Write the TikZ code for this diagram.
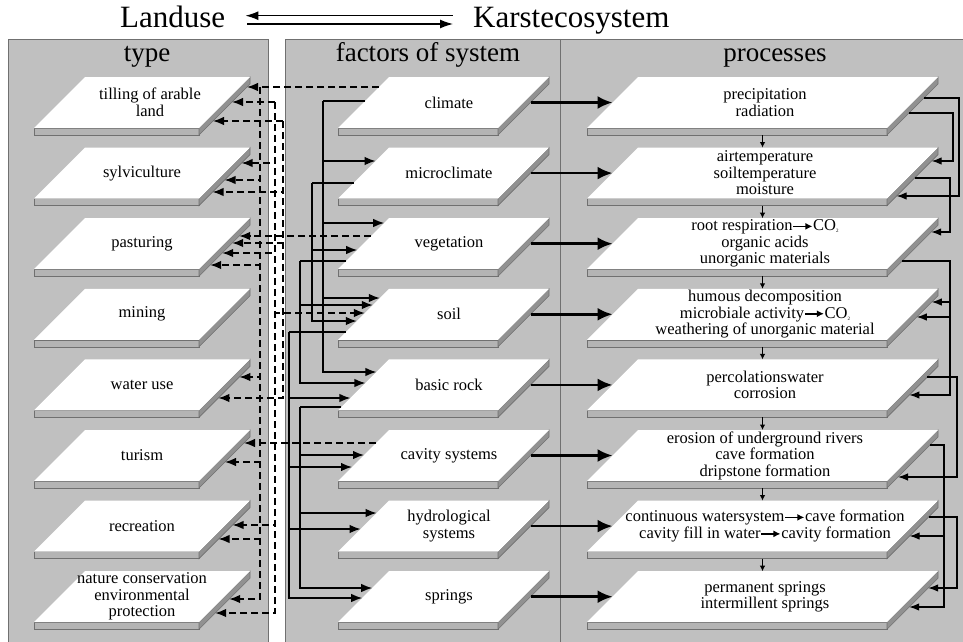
\documentclass[tikz,border=0pt]{standalone}
\usepackage{fontspec}
\setmainfont{Liberation Serif}
\usetikzlibrary{arrows.meta}

\definecolor{panelgray}{RGB}{192,192,192}
\definecolor{frontgray}{RGB}{180,180,180}
\definecolor{sidegray}{RGB}{145,145,145}
\definecolor{edgegray}{RGB}{112,112,112}

\newcommand{\slab}[6][]{
	\filldraw[fill=frontgray, draw=edgegray, line width=0.6pt] (#3, #4 + 51) rectangle (#3 + #5, #4 + 58);
	\filldraw[fill=sidegray, draw=edgegray, line width=0.6pt] (#3 + #5, #4 + 51) -- (#3 + #5 + 51, #4) -- (#3 + #5 + 51, #4 + 7) -- (#3 + #5, #4 + 58) -- cycle;
	\fill[white] (#3, #4 + 51) -- (#3 + #5, #4 + 51) -- (#3 + #5 + 51, #4) -- (#3 + 51, #4) -- cycle;
	\coordinate (#2-w) at (#3 + 25.5, #4 + 25.5);
	\coordinate (#2-o) at (#3 + #5 + 32.5, #4 + 25.5);
	\coordinate (#2-n) at (#3 + #5/2 + 25.5, #4);
	\coordinate (#2-s) at (#3 + #5/2 + 25.5, #4 + 58);
	\node[slabtext, #1] (#2) at (#3 + #5/2 + 25.5, #4 + 25.5) {#6};
}

\newcommand{\toarr}{\tikz[baseline=-4.5pt]\draw[line width=1.6pt, -{Latex[length=7pt, width=7pt]}] (0pt, 0pt) -- (19pt, 0pt);}
\newcommand{\cotwo}{CO\raisebox{-2pt}{\fontsize{5}{5}\selectfont 2}}

\begin{document}
\begin{tikzpicture}[x=1pt, y=-1pt,
		slabtext/.style={align=center, inner sep=0pt, font=\fontsize{16.5}{16.5}\selectfont},
		head/.style={anchor=base, inner sep=0pt, font=\fontsize{27}{27}\selectfont},
		title/.style={anchor=base west, inner sep=0pt, font=\fontsize{31}{31}\selectfont},
		lift/.style={xshift=#1pt, yshift=#1pt},
		wire/.style={line width=1.4pt},
		sarr/.style={wire, -{Latex[length=11pt, width=8.5pt]}},
		darr/.style={sarr, dash pattern=on 7pt off 4pt},
		bigarr/.style={line width=2.5pt, -{Latex[length=15pt, width=13pt]}},
		farr/.style={line width=1.2pt, -{Latex[length=10pt, width=7.5pt]}},
		tarr/.style={line width=1pt, -{Latex[length=5.5pt, width=5.5pt]}}]
	\useasboundingbox (0, 0) rectangle (963, 642);
	\filldraw[fill=panelgray, draw=edgegray, line width=0.6pt] (8, 39) rectangle (268, 650);
	\filldraw[fill=panelgray, draw=edgegray, line width=0.6pt] (285, 39) rectangle (970, 650);
	\draw[edgegray, line width=0.6pt] (560, 39) -- (560, 650);

	\node[title] (land) at (120, 28) {Landuse};
	\node[title] (karst) at (473, 28) {Karstecosystem};
	\draw[line width=1.3pt, {Latex[length=13pt, width=9pt]}-] ([shift={(20, -12.3)}]land.base east) -- ([shift={(-20, -12.3)}]karst.base west);
	\draw[line width=1.3pt, -{Latex[length=13pt, width=9pt]}] ([shift={(22, -4)}]land.base east) -- ([shift={(-20, -4)}]karst.base west);

	\node[head] (typehead) at (147, 62) {type};
	\node[head] (factorhead) at (428, 62) {factors of system};
	\node[head] (processhead) at (775, 62) {processes};

	\slab[xshift=8pt]{till}{34}{77}{165}{tilling of arable\\land}
	\slab{sylv}{34}{147.6}{165}{sylviculture}
	\slab{past}{34}{218.2}{165}{pasturing}
	\slab{mine}{34}{288.8}{165}{mining}
	\slab{water}{34}{359.4}{165}{water use}
	\slab{tur}{34}{430}{165}{turism}
	\slab{recr}{34}{500.6}{165}{recreation}
	\slab{nat}{34}{571.2}{165}{nature conservation\\environmental\\protection}

	\slab[xshift=5.5pt]{clim}{338}{77}{160}{climate}
	\slab[xshift=5.5pt]{micro}{338}{147.6}{160}{microclimate}
	\slab[xshift=5.5pt]{veg}{338}{218.2}{160}{vegetation}
	\slab[xshift=5.5pt]{soil}{338}{288.8}{160}{soil}
	\slab[xshift=5.5pt]{rock}{338}{359.4}{160}{basic rock}
	\slab[xshift=5.5pt]{cav}{338}{430}{160}{cavity systems}
	\slab[xshift=5.5pt]{hydro}{338}{500.6}{160}{hydrological\\systems}
	\slab[xshift=5.5pt]{spring}{338}{571.2}{160}{springs}

	\slab[xshift=2.5pt]{prec}{587}{77}{300}{precipitation\\radiation}
	\slab[xshift=2.5pt]{air}{587}{147.6}{300}{airtemperature\\soiltemperature\\moisture}
	\slab[xshift=2.5pt]{root}{587}{218.2}{300}{root respiration\toarr\cotwo\\organic acids\\unorganic materials}
	\slab[xshift=2.5pt]{hum}{587}{288.8}{300}{humous decomposition\\microbiale activity\toarr\cotwo\\weathering of unorganic material}
	\slab[xshift=2.5pt]{perc}{587}{359.4}{300}{percolationswater\\corrosion}
	\slab[xshift=2.5pt]{ero}{587}{430}{300}{erosion of underground rivers\\cave formation\\dripstone formation}
	\slab[xshift=2.5pt]{cont}{587}{500.6}{300}{continuous watersystem\toarr cave formation\\cavity fill in water\toarr cavity formation}
	\slab[xshift=2.5pt]{perm}{587}{571.2}{300}{permanent springs\\intermillent springs}

	\coordinate (kc) at (323, 101);
	\coordinate (km) at (312, 183);
	\coordinate (kv) at (300, 261);
	\coordinate (ks) at (289, 332);
	\coordinate (kr) at (300, 407);
	\coordinate (da) at (260, 87);
	\coordinate (db) at (275, 102);
	\coordinate (dc) at (283, 121);
	\coordinate (ra) at (959, 98);
	\coordinate (rb) at (953, 113);
	\coordinate (rc) at (950, 178);
	\coordinate (rd) at (950, 261);
	\coordinate (re) at (957, 377);
	\coordinate (rf) at (944, 445);
	\coordinate (rg) at (957, 517);

	\draw[wire] ([lift=1.5]clim-w) -- (kc);
	\draw[sarr] (kc) |- ([lift=12.1]micro-w);
	\draw[sarr] (kc) |- ([lift=20.7]veg-w);
	\draw[sarr] (kc) |- ([lift=16.3]soil-w);
	\draw[sarr] (kc) |- ([lift=12.9]rock-w);
	\draw[wire] ([lift=-9.9]micro-w) -- (km);
	\draw[sarr] (km) |- ([lift=-6.3]veg-w);
	\draw[sarr] (km) |- ([lift=-6.7]soil-w);
	\draw[wire] ([lift=-17.3]veg-w) -- (kv);
	\draw[sarr] (kv) |- ([lift=9.3]soil-w);
	\draw[sarr] (kv) |- ([lift=1.9]rock-w);
	\draw[wire] ([lift=-17.7]soil-w) -- (ks);
	\draw[sarr] (ks) |- ([lift=-13.1]rock-w);
	\draw[sarr] (ks) |- ([lift=-11.5]cav-w);
	\draw[sarr] (ks) |- ([lift=-2.9]hydro-w);
	\draw[sarr] (ks) |- ([lift=-1.3]spring-w);
	\draw[wire] ([lift=-22.1]rock-w) -- (kr);
	\draw[sarr] (kr) |- ([lift=0.5]cav-w);
	\draw[sarr] (kr) |- ([lift=13.1]hydro-w);
	\draw[sarr] (kr) |- ([lift=8.7]spring-w);

	\draw[bigarr] (clim-o) -- (prec-w);
	\draw[bigarr] (micro-o) -- (air-w);
	\draw[bigarr] (veg-o) -- (root-w);
	\draw[bigarr] (soil-o) -- (hum-w);
	\draw[bigarr] (rock-o) -- (perc-w);
	\draw[bigarr] (cav-o) -- (ero-w);
	\draw[bigarr] (hydro-o) -- (cont-w);
	\draw[bigarr] (spring-o) -- (perm-w);

	\draw[darr] ([lift=15.5]clim-w) -- ([lift=15.5]till-o);
	\draw[darr] (da) |- ([lift=-6.9]sylv-o);
	\draw[darr] (da) |- ([lift=-21.3]past-o);
	\draw[darr] (da) |- ([lift=7.9]water-o);
	\draw[darr] (da) |- ([lift=-6.5]tur-o);
	\draw[darr] (da) |- ([lift=-12.9]recr-o);
	\draw[darr] (da) |- ([lift=-2.3]nat-o);
	\draw[darr] ([lift=7.7]veg-w) -- ([lift=7.7]past-o);
	\draw[darr] (dc) |- ([lift=-18.5]till-o);
	\draw[darr] (dc) |- ([lift=-18.9]sylv-o);
	\draw[darr] (dc) |- ([lift=0.7]past-o);
	\draw[darr] (dc) |- ([lift=-13.1]water-o);
	\draw[darr] ([lift=12.5]cav-w) -- ([lift=12.5]tur-o);
	\draw[darr] (db) |- ([lift=0.5]till-o);
	\draw[darr] (db) |- ([lift=10.1]sylv-o);
	\draw[darr] (db) |- ([lift=-9.3]past-o);
	\draw[darr] (db) |- ([lift=1.3]soil-w);
	\draw[darr] (db) |- ([lift=1.1]recr-o);
	\draw[darr] (db) |- ([lift=-16.3]nat-o);

	\draw[tarr] (prec-s) -- (air-n);
	\draw[tarr] (air-s) -- (root-n);
	\draw[tarr] (root-s) -- (hum-n);
	\draw[tarr] (hum-s) -- (perc-n);
	\draw[tarr] (perc-s) -- (ero-n);
	\draw[tarr] (ero-s) -- (cont-n);
	\draw[tarr] (cont-s) -- (perm-n);

	\draw[farr] ([lift=4.5]prec-o) -| (ra) |- ([lift=-22.9]air-o);
	\draw[farr] ([lift=-10.5]prec-o) -| (rb) |- ([lift=12.1]air-o);
	\draw[farr] ([lift=-4.9]air-o) -| (rc) |- ([lift=11.7]root-o);
	\draw[farr] ([lift=-17.3]root-o) -| (rd) |- ([lift=12.3]hum-o);
	\draw[farr] (rd) |- ([lift=-2.7]hum-o);
	\draw[farr] (rd) |- ([lift=-10.1]perc-o);
	\draw[farr] ([lift=7.9]perc-o) -| (re) |- ([lift=-21.5]ero-o);
	\draw[farr] ([lift=10.5]ero-o) -| (rf) |- ([lift=-9.9]cont-o);
	\draw[farr] (rf) |- ([lift=-10.3]perm-o);
	\draw[farr] ([lift=9.1]cont-o) -| (rg) |- ([lift=8.7]perm-o);
\end{tikzpicture}
\end{document}
